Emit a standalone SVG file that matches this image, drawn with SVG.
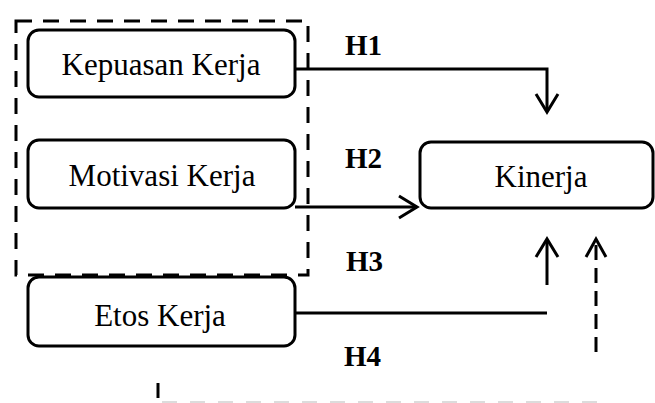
<svg xmlns="http://www.w3.org/2000/svg" width="655" height="403" viewBox="0 0 655 403">
  <style>
    .box { fill: #fff; stroke: #000; stroke-width: 3; }
    .label { font-family: "Liberation Serif", "Times New Roman", serif; font-size: 31px; fill: #000; text-anchor: middle; }
    .hyp { font-family: "Liberation Serif", "Times New Roman", serif; font-size: 29px; font-weight: bold; fill: #000; }
    .line { fill: none; stroke: #000; stroke-width: 3; }
    .dash { fill: none; stroke: #000; stroke-width: 3; stroke-dasharray: 16 11; }
  </style>

  <!-- grouping frame around the first two variables -->
  <rect x="16" y="21" width="292" height="254" class="dash"/>

  <g id="node-kepuasan">
    <rect x="28" y="30" width="267" height="67" rx="11" class="box"/>
    <text x="161" y="75" class="label">Kepuasan Kerja</text>
  </g>
  <g id="node-motivasi">
    <rect x="28" y="140" width="267" height="68" rx="11" class="box"/>
    <text x="162" y="186" class="label">Motivasi Kerja</text>
  </g>
  <g id="node-etos">
    <rect x="28" y="277" width="267" height="69" rx="11" class="box"/>
    <text x="160" y="326" class="label">Etos Kerja</text>
  </g>
  <g id="node-kinerja">
    <rect x="420" y="142" width="233" height="66" rx="11" class="box"/>
    <text x="541" y="187" class="label">Kinerja</text>
  </g>

  <g id="connectors">
    <!-- H1 -->
    <path d="M295,69 H547 V111" class="line"/>
    <path d="M536,94 L547,112 L558,94" class="line"/>
    <!-- H2 -->
    <path d="M295,207 H417" class="line"/>
    <path d="M399,196 L417,207 L399,218" class="line"/>
    <!-- H3 -->
    <path d="M295,313 H547" class="line"/>
    <path d="M547,285 V240" class="line"/>
    <path d="M536,257 L547,239 L558,257" class="line"/>
    <!-- H4 -->
    <path d="M596,352 V242" fill="none" stroke="#000" stroke-width="3" stroke-dasharray="15 8"/>
    <path d="M586,257 L596,239 L606,257" class="line"/>
    <path d="M158,383 V398" class="line"/>
    <path d="M162,402.5 H600" fill="none" stroke="#dcdcdc" stroke-width="3" stroke-dasharray="15 13"/>
  </g>

  <g id="hypothesis-labels">
    <text x="345" y="55" class="hyp">H1</text>
    <text x="345" y="168" class="hyp">H2</text>
    <text x="346" y="271" class="hyp">H3</text>
    <text x="344" y="366" class="hyp">H4</text>
  </g>
</svg>
